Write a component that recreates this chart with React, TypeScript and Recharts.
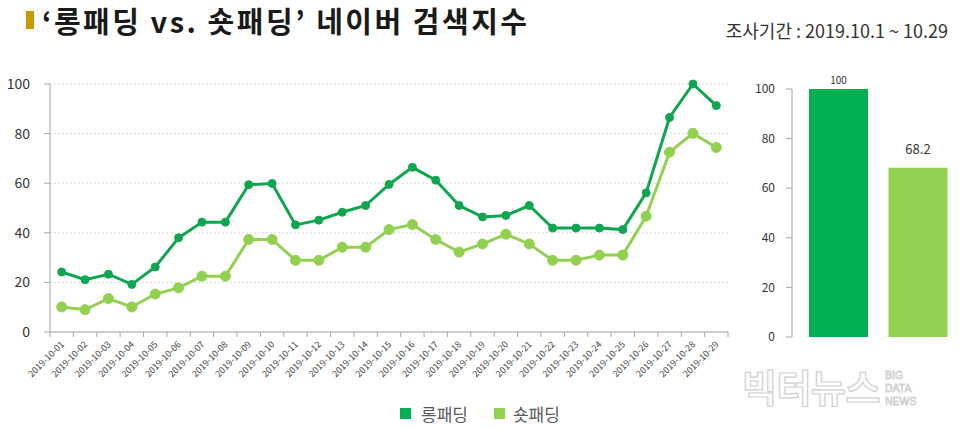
import { LineChart, Line, BarChart, Bar, Cell, LabelList, XAxis, YAxis, CartesianGrid } from 'recharts';

const DATES = [
    '2019-10-01', '2019-10-02', '2019-10-03', '2019-10-04', '2019-10-05', '2019-10-06', '2019-10-07',
    '2019-10-08', '2019-10-09', '2019-10-10', '2019-10-11', '2019-10-12', '2019-10-13', '2019-10-14',
    '2019-10-15', '2019-10-16', '2019-10-17', '2019-10-18', '2019-10-19', '2019-10-20', '2019-10-21',
    '2019-10-22', '2019-10-23', '2019-10-24', '2019-10-25', '2019-10-26', '2019-10-27', '2019-10-28',
    '2019-10-29',
];
const LONG_PADDING = [
    24.2, 21.1, 23.3, 19.2, 26.2, 38.0, 44.3, 44.3, 59.4, 59.9, 43.2, 45.1, 48.3, 51.0,
    59.5, 66.4, 61.2, 51.0, 46.4, 47.0, 51.0, 41.9, 41.9, 41.9, 41.3, 56.1, 86.5, 100, 91.3,
];
const SHORT_PADDING = [
    10.1, 9.0, 13.5, 10.1, 15.3, 17.8, 22.5, 22.5, 37.3, 37.3, 28.9, 28.9, 34.2, 34.2,
    41.3, 43.3, 37.3, 32.2, 35.5, 39.4, 35.5, 28.9, 28.9, 31.0, 31.0, 46.7, 72.5, 80.1, 74.4,
];
const Y_TICKS = [0, 20, 40, 60, 80, 100];
const SERIES = ['롱패딩', '숏패딩'];
const TOTALS = [100, 68.2];
const WATERMARK_SUB = ['BIG', 'DATA', 'NEWS'];

const DARK = '#0fa64f';
const BAR_DARK = '#00b050';
const LIGHT = '#92d050';
const FONT = '"Noto Sans CJK KR", "Noto Sans", sans-serif';

const lineData = DATES.map((d, i) => ({ date: d, long: LONG_PADDING[i], short: SHORT_PADDING[i] }));
const barData = SERIES.map((name, i) => ({ name, value: TOTALS[i] }));

// plot area of the line chart spans x 50..728
const PLOT_W = 678;
const BAND = PLOT_W / DATES.length;

const DateTick = ({ x, y, payload, index }: any) => (
    <g transform={`translate(${x},${y})`}>
        <line x1={-BAND / 2} y1={0} x2={-BAND / 2} y2={5} stroke="#a6a6a6" />
        {index === DATES.length - 1 && <line x1={BAND / 2} y1={0} x2={BAND / 2} y2={5} stroke="#a6a6a6" />}
        <text x={3} y={13} textAnchor="end" transform="rotate(-45 3 13)" fontSize={9} fill="#444" fontFamily={FONT}>
            {payload.value}
        </text>
    </g>
);

const TotalLabel = ({ x, y, width, value, index }: any) => (
    <text
        x={x + width / 2}
        y={index === 0 ? y - 5 : y - 14}
        textAnchor="middle"
        fontSize={index === 0 ? 10 : 13}
        fill="#333"
        fontFamily={FONT}
    >
        {value}
    </text>
);

export default function App() {
    return (
        <div style={{ position: 'absolute', left: 0, top: 0, width: 960, height: 428, background: '#fff', fontFamily: FONT, overflow: 'hidden' }}>
            {/* title */}
            <div style={{ position: 'absolute', left: 26, top: 11, width: 8, height: 18, background: '#c99a06' }} />
            <div style={{ position: 'absolute', left: 42, top: 0, fontSize: 29, fontWeight: 700, letterSpacing: 2.5, color: '#1a1a1a', lineHeight: '40px', whiteSpace: 'nowrap' }}>
                ‘롱패딩 vs. 숏패딩’ 네이버 검색지수
            </div>
            <div style={{ position: 'absolute', right: 12, top: 17, fontSize: 18, color: '#333', whiteSpace: 'nowrap' }}>
                조사기간 : 2019.10.1 ~ 10.29
            </div>

            {/* daily index lines */}
            <div style={{ position: 'absolute', left: 0, top: 0 }}>
                <LineChart width={740} height={428} data={lineData} margin={{ top: 84, right: 12, left: 0, bottom: 56 }}>
                    <CartesianGrid vertical={false} stroke="#d9d9d9" strokeDasharray="2 2" />
                    <XAxis
                        dataKey="date"
                        interval={0}
                        padding={{ left: BAND / 2, right: BAND / 2 }}
                        stroke="#a6a6a6"
                        tickLine={false}
                        tickSize={0}
                        tickMargin={0}
                        height={40}
                        tick={<DateTick />}
                    />
                    <YAxis
                        domain={[0, 100]}
                        ticks={Y_TICKS}
                        width={50}
                        stroke="#a6a6a6"
                        tickSize={6}
                        tickMargin={14}
                        tick={{ fontSize: 14, fill: '#333', fontFamily: FONT }}
                    />
                    <Line dataKey="long" stroke={DARK} strokeWidth={3} dot={{ r: 4, fill: DARK, stroke: DARK, strokeWidth: 1 }} isAnimationActive={false} />
                    <Line dataKey="short" stroke={LIGHT} strokeWidth={3} dot={{ r: 5, fill: LIGHT, stroke: LIGHT, strokeWidth: 1 }} isAnimationActive={false} />
                </LineChart>
            </div>

            {/* period totals */}
            <div style={{ position: 'absolute', left: 740, top: 0 }}>
                <BarChart width={220} height={350} data={barData} margin={{ top: 89, right: 2, left: 0, bottom: 13 }}>
                    <XAxis dataKey="name" hide padding={{ left: 7, right: 0 }} />
                    <YAxis
                        domain={[0, 100]}
                        ticks={Y_TICKS}
                        width={52}
                        stroke="#a6a6a6"
                        tickSize={6}
                        tickMargin={11}
                        tick={{ fontSize: 12, fill: '#333', fontFamily: FONT }}
                    />
                    <Bar dataKey="value" barSize={59} isAnimationActive={false}>
                        {barData.map((d, i) => (
                            <Cell key={d.name} fill={i === 0 ? BAR_DARK : LIGHT} />
                        ))}
                        <LabelList dataKey="value" content={<TotalLabel />} />
                    </Bar>
                </BarChart>
            </div>

            {/* legend */}
            <div style={{ position: 'absolute', left: 400, top: 401, display: 'flex', alignItems: 'center', fontSize: 17, color: '#595959', whiteSpace: 'nowrap' }}>
                <span style={{ width: 11, height: 11, background: BAR_DARK, marginRight: 10 }} />
                <span style={{ marginRight: 26 }}>{SERIES[0]}</span>
                <span style={{ width: 11, height: 11, background: LIGHT, marginRight: 8 }} />
                <span>{SERIES[1]}</span>
            </div>

            {/* watermark */}
            <svg style={{ position: 'absolute', left: 736, top: 356 }} width={224} height={70}>
                <text x={6} y={46} fontSize={38} fontWeight={700} fill="#fff" stroke="#d0d0d0" strokeWidth={1.2} fontFamily={FONT} letterSpacing={-0.5}>
                    빅터뉴스
                </text>
                {WATERMARK_SUB.map((w, i) => (
                    <text key={w} x={149} y={23 + i * 13} fontSize={10.5} fill="#fff" stroke="#d0d0d0" strokeWidth={0.8} fontFamily='"Liberation Sans", Arial, sans-serif'>
                        {w}
                    </text>
                ))}
            </svg>
        </div>
    );
}
